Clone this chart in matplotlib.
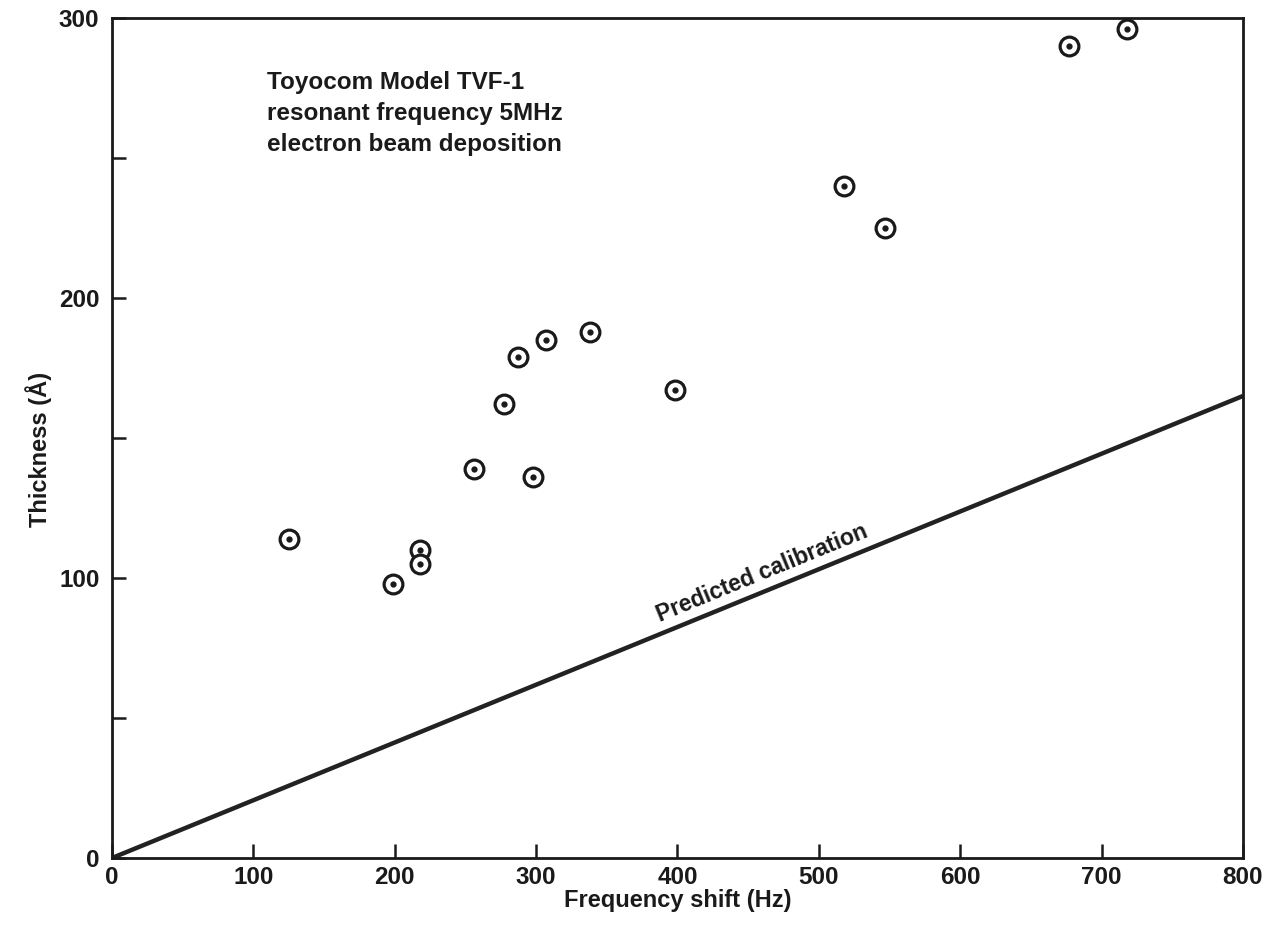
import numpy as np
import matplotlib.pyplot as plt

plt.rcParams['font.family'] = ['Liberation Sans', 'DejaVu Sans']

# measured points (frequency shift in Hz, thickness in Angstrom)
freq = [125, 199, 218, 218, 256, 277, 287, 298, 307, 338, 398, 518, 547, 677, 718]
thick = [114, 98, 110, 105, 139, 162, 179, 136, 185, 188, 167, 240, 225, 290, 296]

# predicted calibration line
calib_x = [0, 800]
calib_y = [0, 165]

xticks = [0, 100, 200, 300, 400, 500, 600, 700, 800]
yticks = [0, 50, 100, 150, 200, 250, 300]
ylabels = ['0', '', '100', '', '200', '', '300']

fig = plt.figure(figsize=(12.84, 9.32), dpi=100)
ax = fig.add_axes([0.0872, 0.0794, 0.8808, 0.9013])

ax.plot(calib_x, calib_y, color='#222222', linewidth=3.2, solid_capstyle='butt')
ax.plot(freq, thick, linestyle='none', marker='o', markersize=13.5,
        markerfacecolor='white', markeredgecolor='#1a1a1a', markeredgewidth=2.3)
ax.plot(freq, thick, linestyle='none', marker='o', markersize=3.5,
        color='#1a1a1a')

ax.set_xlim(0, 800)
ax.set_ylim(0, 300)
ax.set_xticks(xticks)
ax.set_xticklabels([str(t) for t in xticks])
ax.set_yticks(yticks)
ax.set_yticklabels(ylabels)

ax.tick_params(direction='in', length=10, width=1.8, labelsize=17.5, colors='#1a1a1a')
ax.tick_params(axis='x', pad=6)
ax.tick_params(axis='y', pad=9)
for lab in ax.get_xticklabels() + ax.get_yticklabels():
    lab.set_fontweight('bold')
for s in ax.spines.values():
    s.set_linewidth(2)
    s.set_color('#1a1a1a')

ax.set_xlabel('Frequency shift (Hz)', fontsize=17, fontweight='bold', labelpad=0,
              color='#1a1a1a')
ax.set_ylabel('Thickness (Å)', fontsize=17, fontweight='bold', color='#1a1a1a')
ax.yaxis.set_label_coords(-0.053, 0.486)

ax.text(110, 281, 'Toyocom Model TVF-1\nresonant frequency 5MHz\nelectron beam deposition',
        fontsize=17.5, fontweight='bold', va='top', ha='left', linespacing=1.45,
        color='#1a1a1a')

ax.text(463, 98, 'Predicted calibration', fontsize=16.5, fontweight='bold',
        ha='center', va='bottom',
        rotation=np.degrees(np.arctan2(165, 800)), transform_rotates_text=True,
        rotation_mode='anchor', color='#1a1a1a')

fig.savefig('out.png', dpi=100, facecolor='white')
